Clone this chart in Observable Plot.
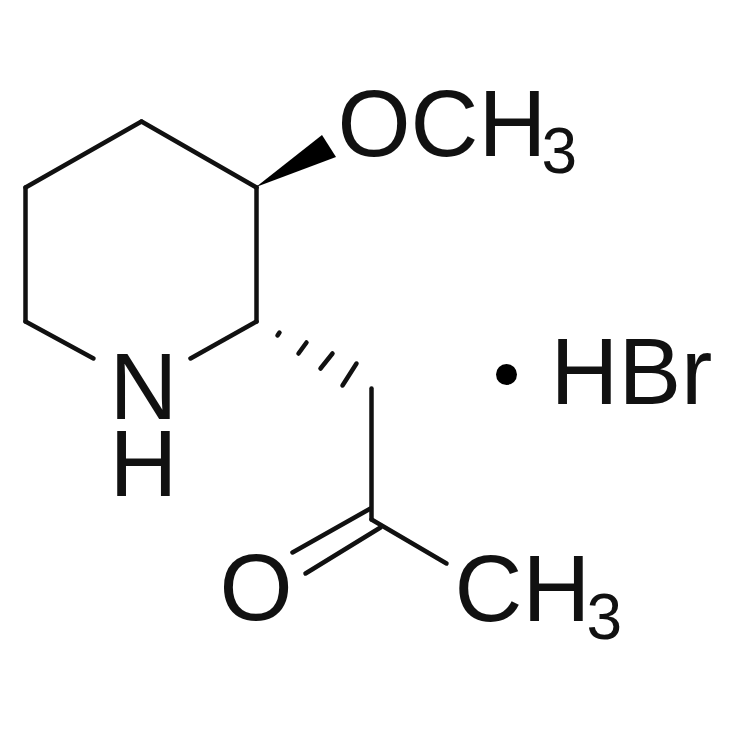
<!DOCTYPE html>
<html><head><meta charset="utf-8">
<script src="https://cdn.jsdelivr.net/npm/d3@7"></script>
<script src="https://cdn.jsdelivr.net/npm/@observablehq/plot@0.6"></script>
<style>html,body{margin:0;padding:0;background:#fff}svg{filter:blur(0.6px)}</style>
</head><body><div id="chart"></div>
<script>
const bonds = [
  [[25,187],[141,121]], [[141,121],[256,187]], [[256,187],[256,321]],
  [[256,321],[190,358]], [[93,358],[25,321]], [[25,321],[25,187]],
  [[371,388],[371,519]], [[370,508],[292,552]], [[380,527],[305,573]],
  [[371,519],[446,563]]
];
const wedgeEdge = [
  {x1:256,y1:187,x2:256,y2:187},
  {x1:322,y1:135,x2:336,y2:157}
];
const hashes = [
  [[277,335],[279,332]], [[298,353],[306,342]], [[320,368],[332,353]],
  [[342,385],[356,363]]
];
const labels = [
  {x:337,y:155,t:"OCH"}, {x:541,y:172,t:"3",small:true},
  {x:109,y:418,t:"N"}, {x:109,y:495,t:"H"},
  {x:219,y:619,t:"O"}, {x:454,y:620,t:"CH"}, {x:586,y:638,t:"3",small:true},
  {x:550,y:403,t:"HBr"}
];
const dots = [[506,374]];
const big = labels.filter(d => !d.small), small = labels.filter(d => d.small);
const common = {fontFamily:"Liberation Sans", textAnchor:"start", lineAnchor:"bottom", fill:"#111"};
const plot = Plot.plot({
  width:730, height:730, margin:0,
  x:{domain:[0,730], range:[0,730], axis:null},
  y:{domain:[0,730], range:[0,730], axis:null},
  marks:[
    bonds.map(b => Plot.line(b,{x:d=>d[0],y:d=>d[1],stroke:"#111",strokeWidth:4.5})),
    Plot.area(wedgeEdge,{x1:"x1",y1:"y1",x2:"x2",y2:"y2",fill:"#000"}),
    hashes.map(b => Plot.line(b,{x:d=>d[0],y:d=>d[1],stroke:"#111",strokeWidth:4.5})),
    Plot.dot(dots,{x:d=>d[0],y:d=>d[1],r:10.5,fill:"#000"}),
    Plot.text(big,{x:"x",y:"y",text:"t",fontSize:94,...common}),
    Plot.text(small,{x:"x",y:"y",text:"t",fontSize:64,...common})
  ]
});
document.getElementById("chart").append(plot);
</script></body></html>
